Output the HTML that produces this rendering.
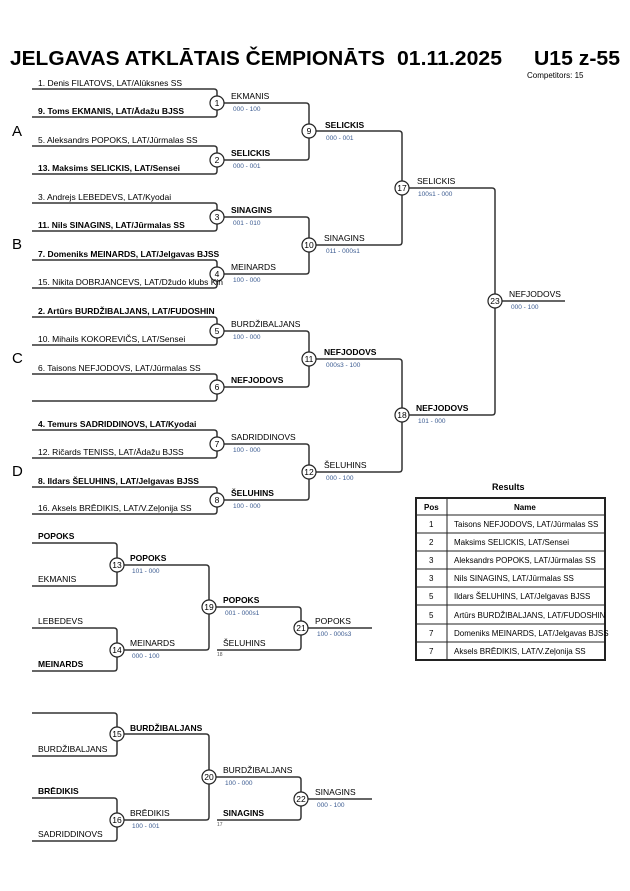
<!DOCTYPE html>
<html><head><meta charset="utf-8"><style>
body{margin:0;background:#fff}
svg{display:block}
text{font-family:"Liberation Sans",sans-serif}
.n{font-size:8.5px}
.b{font-weight:bold}
.s{font-size:6.5px;fill:#3a5a90}
.c{font-size:8.5px;text-anchor:middle}
.t{font-size:8px}
</style></head><body>
<svg width="630" height="891" viewBox="0 0 630 891">
<g fill="#000">
<text x="10" y="65" font-size="20" font-weight="bold" textLength="375" lengthAdjust="spacingAndGlyphs">JELGAVAS ATKLĀTAIS ČEMPIONĀTS</text>
<text x="397" y="65" font-size="20" font-weight="bold" textLength="105" lengthAdjust="spacingAndGlyphs">01.11.2025</text>
<text x="534" y="65" font-size="20" font-weight="bold" textLength="86" lengthAdjust="spacingAndGlyphs">U15 z-55</text>
<text x="527" y="78" font-size="8">Competitors: 15</text>
<text x="12" y="136" font-size="15">A</text>
<text x="12" y="249" font-size="15">B</text>
<text x="12" y="363" font-size="15">C</text>
<text x="12" y="476" font-size="15">D</text>
</g>
<g fill="none" stroke="#333" stroke-width="1.5">
<!-- R1 -->
<path d="M32 89H214Q217 89 217 92V114Q217 117 214 117H32"/>
<path d="M32 146H214Q217 146 217 149V171Q217 174 214 174H32"/>
<path d="M32 203H214Q217 203 217 206V228Q217 231 214 231H32"/>
<path d="M32 260H214Q217 260 217 263V285Q217 288 214 288H32"/>
<path d="M32 317H214Q217 317 217 320V342Q217 345 214 345H32"/>
<path d="M32 374H214Q217 374 217 377V398Q217 401 214 401H32"/>
<path d="M32 430H214Q217 430 217 433V455Q217 458 214 458H32"/>
<path d="M32 487H214Q217 487 217 490V511Q217 514 214 514H32"/>
<!-- R2 -->
<path d="M217 103H306Q309 103 309 106V157Q309 160 306 160H217"/>
<path d="M217 217H306Q309 217 309 220V271Q309 274 306 274H217"/>
<path d="M217 331H306Q309 331 309 334V384Q309 387 306 387H217"/>
<path d="M217 444H306Q309 444 309 447V497Q309 500 306 500H217"/>
<!-- R3 -->
<path d="M309 131H399Q402 131 402 134V242Q402 245 399 245H309"/>
<path d="M309 359H399Q402 359 402 362V469Q402 472 399 472H309"/>
<!-- F -->
<path d="M402 188H492Q495 188 495 191V412Q495 415 492 415H402"/>
<path d="M495 301H565"/>
<!-- rep 1 -->
<path d="M32 543H114Q117 543 117 546V583Q117 586 114 586H32"/>
<path d="M32 628H114Q117 628 117 631V668Q117 671 114 671H32"/>
<path d="M117 565H206Q209 565 209 568V647Q209 650 206 650H117"/>
<path d="M209 607H298Q301 607 301 610V647Q301 650 298 650H217"/>
<path d="M301 628H372"/>
<!-- rep 2 -->
<path d="M32 713H114Q117 713 117 716V753Q117 756 114 756H32"/>
<path d="M32 798H114Q117 798 117 801V838Q117 841 114 841H32"/>
<path d="M117 734H206Q209 734 209 737V817Q209 820 206 820H117"/>
<path d="M209 777H298Q301 777 301 780V817Q301 820 298 820H217"/>
<path d="M301 799H372"/>
</g>
<g fill="#fff" stroke="#222" stroke-width="1.2">
<circle cx="217" cy="103" r="7"/><circle cx="217" cy="160" r="7"/><circle cx="217" cy="217" r="7"/><circle cx="217" cy="274" r="7"/>
<circle cx="217" cy="331" r="7"/><circle cx="217" cy="387" r="7"/><circle cx="217" cy="444" r="7"/><circle cx="217" cy="500" r="7"/>
<circle cx="309" cy="131" r="7"/><circle cx="309" cy="245" r="7"/><circle cx="309" cy="359" r="7"/><circle cx="309" cy="472" r="7"/>
<circle cx="402" cy="188" r="7"/><circle cx="402" cy="415" r="7"/><circle cx="495" cy="301" r="7"/>
<circle cx="117" cy="565" r="7"/><circle cx="117" cy="650" r="7"/><circle cx="209" cy="607" r="7"/><circle cx="301" cy="628" r="7"/>
<circle cx="117" cy="734" r="7"/><circle cx="117" cy="820" r="7"/><circle cx="209" cy="777" r="7"/><circle cx="301" cy="799" r="7"/>
</g>
<g fill="#000">
<text class="c" x="217" y="106">1</text><text class="c" x="217" y="163">2</text><text class="c" x="217" y="220">3</text><text class="c" x="217" y="277">4</text>
<text class="c" x="217" y="334">5</text><text class="c" x="217" y="390">6</text><text class="c" x="217" y="447">7</text><text class="c" x="217" y="503">8</text>
<text class="c" x="309" y="134">9</text><text class="c" x="309" y="248">10</text><text class="c" x="309" y="362">11</text><text class="c" x="309" y="475">12</text>
<text class="c" x="402" y="191">17</text><text class="c" x="402" y="418">18</text><text class="c" x="495" y="304">23</text>
<text class="c" x="117" y="568">13</text><text class="c" x="117" y="653">14</text><text class="c" x="209" y="610">19</text><text class="c" x="301" y="631">21</text>
<text class="c" x="117" y="737">15</text><text class="c" x="117" y="823">16</text><text class="c" x="209" y="780">20</text><text class="c" x="301" y="802">22</text>
</g>
<g fill="#000" class="n">
<text class="n" x="38" y="86">1. Denis FILATOVS, LAT/Alūksnes SS</text>
<text class="n b" x="38" y="114">9. Toms EKMANIS, LAT/Ādažu BJSS</text>
<text class="n" x="38" y="143">5. Aleksandrs POPOKS, LAT/Jūrmalas SS</text>
<text class="n b" x="38" y="171">13. Maksims SELICKIS, LAT/Sensei</text>
<text class="n" x="38" y="200">3. Andrejs LEBEDEVS, LAT/Kyodai</text>
<text class="n b" x="38" y="228">11. Nils SINAGINS, LAT/Jūrmalas SS</text>
<text class="n b" x="38" y="257">7. Domeniks MEINARDS, LAT/Jelgavas BJSS</text>
<text class="n" x="38" y="285">15. Nikita DOBRJANCEVS, LAT/Džudo klubs Kin</text>
<text class="n b" x="38" y="314">2. Artūrs BURDŽIBALJANS, LAT/FUDOSHIN</text>
<text class="n" x="38" y="342">10. Mihails KOKOREVIČS, LAT/Sensei</text>
<text class="n" x="38" y="371">6. Taisons NEFJODOVS, LAT/Jūrmalas SS</text>
<text class="n b" x="38" y="427">4. Temurs SADRIDDINOVS, LAT/Kyodai</text>
<text class="n" x="38" y="455">12. Ričards TENISS, LAT/Ādažu BJSS</text>
<text class="n b" x="38" y="484">8. Ildars ŠELUHINS, LAT/Jelgavas BJSS</text>
<text class="n" x="38" y="511">16. Aksels BRĒDIKIS, LAT/V.Zeļonija SS</text>

<text class="n" x="231" y="99">EKMANIS</text><text class="s" x="233" y="111">000 - 100</text>
<text class="n b" x="231" y="156">SELICKIS</text><text class="s" x="233" y="168">000 - 001</text>
<text class="n b" x="231" y="213">SINAGINS</text><text class="s" x="233" y="225">001 - 010</text>
<text class="n" x="231" y="270">MEINARDS</text><text class="s" x="233" y="282">100 - 000</text>
<text class="n" x="231" y="327">BURDŽIBALJANS</text><text class="s" x="233" y="339">100 - 000</text>
<text class="n b" x="231" y="383">NEFJODOVS</text>
<text class="n" x="231" y="440">SADRIDDINOVS</text><text class="s" x="233" y="452">100 - 000</text>
<text class="n b" x="231" y="496">ŠELUHINS</text><text class="s" x="233" y="508">100 - 000</text>

<text class="n b" x="325" y="128">SELICKIS</text><text class="s" x="326" y="140">000 - 001</text>
<text class="n" x="324" y="241">SINAGINS</text><text class="s" x="326" y="253">011 - 000s1</text>
<text class="n b" x="324" y="355">NEFJODOVS</text><text class="s" x="326" y="367">000s3 - 100</text>
<text class="n" x="324" y="468">ŠELUHINS</text><text class="s" x="326" y="480">000 - 100</text>
<text class="n" x="417" y="184">SELICKIS</text><text class="s" x="418" y="196">100s1 - 000</text>
<text class="n b" x="416" y="411">NEFJODOVS</text><text class="s" x="418" y="423">101 - 000</text>
<text class="n" x="509" y="297">NEFJODOVS</text><text class="s" x="511" y="309">000 - 100</text>

<text class="n b" x="38" y="539">POPOKS</text>
<text class="n" x="38" y="582">EKMANIS</text>
<text class="n" x="38" y="624">LEBEDEVS</text>
<text class="n b" x="38" y="667">MEINARDS</text>
<text class="n b" x="130" y="561">POPOKS</text><text class="s" x="132" y="573">101 - 000</text>
<text class="n" x="130" y="646">MEINARDS</text><text class="s" x="132" y="658">000 - 100</text>
<text class="n b" x="223" y="603">POPOKS</text><text class="s" x="225" y="615">001 - 000s1</text>
<text class="n" x="223" y="646">ŠELUHINS</text><text x="217" y="656" font-size="5" fill="#555">18</text>
<text class="n" x="315" y="624">POPOKS</text><text class="s" x="317" y="636">100 - 000s3</text>

<text class="n" x="38" y="752">BURDŽIBALJANS</text>
<text class="n b" x="38" y="794">BRĒDIKIS</text>
<text class="n" x="38" y="837">SADRIDDINOVS</text>
<text class="n b" x="130" y="731">BURDŽIBALJANS</text>
<text class="n" x="130" y="816">BRĒDIKIS</text><text class="s" x="132" y="828">100 - 001</text>
<text class="n" x="223" y="773">BURDŽIBALJANS</text><text class="s" x="225" y="785">100 - 000</text>
<text class="n b" x="223" y="816">SINAGINS</text><text x="217" y="826" font-size="5" fill="#555">17</text>
<text class="n" x="315" y="795">SINAGINS</text><text class="s" x="317" y="807">000 - 100</text>
</g>
<!-- Results table -->
<text x="492" y="490" font-size="9" font-weight="bold">Results</text>
<g fill="none" stroke="#222">
<rect x="416" y="498" width="189" height="162" stroke-width="2"/>
<line x1="447" y1="498" x2="447" y2="660"/>
<line x1="416" y1="515" x2="605" y2="515"/>
<line x1="416" y1="533" x2="605" y2="533"/>
<line x1="416" y1="551" x2="605" y2="551"/>
<line x1="416" y1="569" x2="605" y2="569"/>
<line x1="416" y1="587" x2="605" y2="587"/>
<line x1="416" y1="605" x2="605" y2="605"/>
<line x1="416" y1="624" x2="605" y2="624"/>
<line x1="416" y1="642" x2="605" y2="642"/>
</g>
<g font-size="8" fill="#000">
<text x="424" y="510" font-weight="bold">Pos</text><text x="514" y="510" font-weight="bold">Name</text>
<text x="429" y="527">1</text><text x="454" y="527">Taisons NEFJODOVS, LAT/Jūrmalas SS</text>
<text x="429" y="545">2</text><text x="454" y="545">Maksims SELICKIS, LAT/Sensei</text>
<text x="429" y="563">3</text><text x="454" y="563">Aleksandrs POPOKS, LAT/Jūrmalas SS</text>
<text x="429" y="581">3</text><text x="454" y="581">Nils SINAGINS, LAT/Jūrmalas SS</text>
<text x="429" y="599">5</text><text x="454" y="599">Ildars ŠELUHINS, LAT/Jelgavas BJSS</text>
<text x="429" y="618">5</text><text x="454" y="618">Artūrs BURDŽIBALJANS, LAT/FUDOSHIN</text>
<text x="429" y="636">7</text><text x="454" y="636">Domeniks MEINARDS, LAT/Jelgavas BJSS</text>
<text x="429" y="654">7</text><text x="454" y="654">Aksels BRĒDIKIS, LAT/V.Zeļonija SS</text>
</g>
</svg>
</body></html>
